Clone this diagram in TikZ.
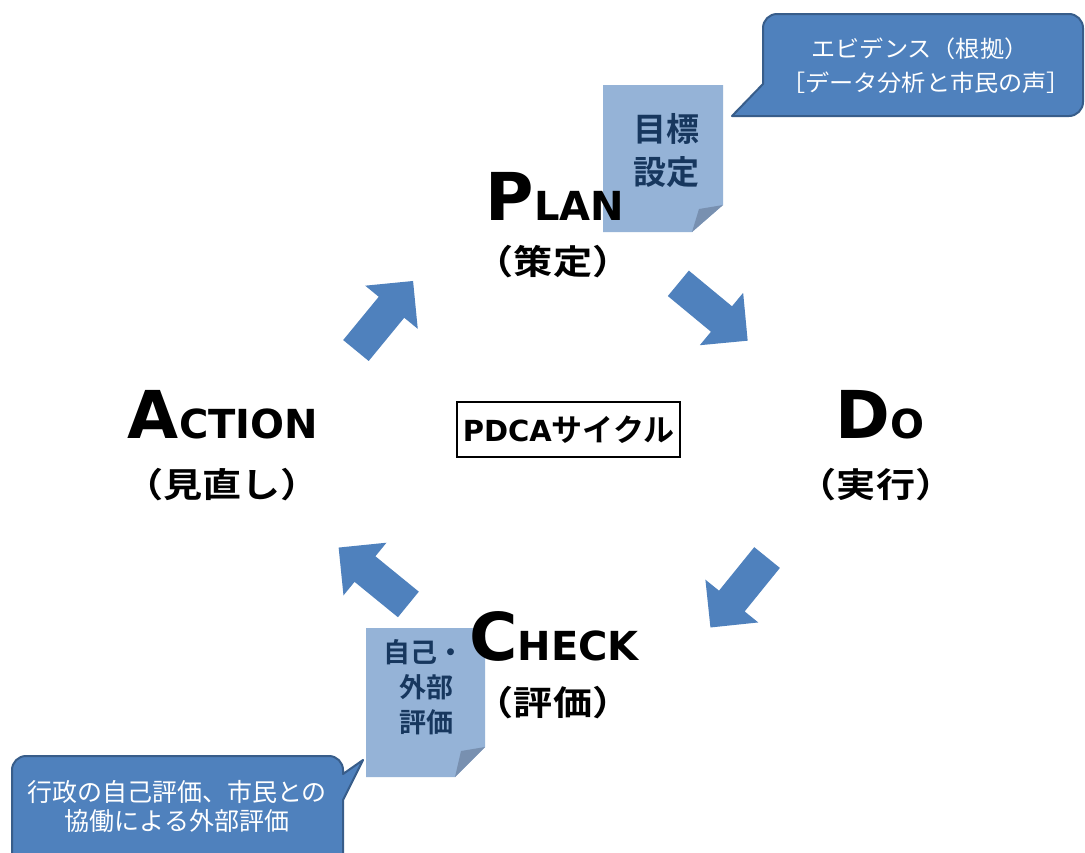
\documentclass[tikz,border=0pt]{standalone}
\usepackage{fontspec}
\newfontfamily\djb{DejaVu Sans Bold}
\newfontfamily\jp{Noto Sans CJK JP}
\newfontfamily\jpw[FakeStretch=1.05]{Noto Sans CJK JP}
\newfontfamily\jpb{Noto Sans CJK JP Bold}
\newfontfamily\jpbw[FakeStretch=1.15]{Noto Sans CJK JP Bold}
\definecolor{arrowblue}{HTML}{4F81BD}
\definecolor{callborder}{HTML}{385D8A}
\definecolor{notefill}{HTML}{95B3D7}
\definecolor{notefold}{HTML}{7890B0}
\definecolor{navy}{HTML}{17375E}
\tikzset{
  blockarrow/.pic={
    \fill[arrowblue] (-45pt,-16.5pt) -- (11pt,-16.5pt) -- (11pt,-34pt) -- (45pt,0pt)
      -- (11pt,34pt) -- (11pt,16.5pt) -- (-45pt,16.5pt) -- cycle;
  },
  bigword/.style={anchor=base, inner sep=0pt, text=black},
  jlabel/.style={inner sep=0pt, text=black, font=\jpbw\fontsize{34}{38}\selectfont},
  notetext/.style={inner sep=0pt, text=navy},
  calltext/.style={inner sep=0pt, text=white},
  callout/.style={fill=arrowblue, draw=callborder, line width=2pt, line join=round},
  pdcabox/.style={draw=black, line width=2pt, inner sep=0pt, minimum width=223pt, minimum height=55pt},
}
\newcommand{\BigL}[1]{{\djb\fontsize{66}{70}\selectfont #1}}
\newcommand{\SmL}[1]{{\djb\fontsize{40}{44}\selectfont #1}}
\begin{document}
\begin{tikzpicture}[x=1pt,y=-1pt]
\path[use as bounding box, clip] (0,0) rectangle (1085,852);
\fill[white] (0,0) rectangle (1085,852);

% block arrows
\pic[rotate=50.6] at (384.5,315.75) {blockarrow};
\pic[rotate=-39.6] at (713,312) {blockarrow};
\pic[rotate=-129] at (738.75,592.5) {blockarrow};
\pic[rotate=140.8] at (373.5,576) {blockarrow};

% notes
\fill[notefill] (603,85) -- (723,85) -- (723,205) -- (692,232) -- (603,232) -- cycle;
\fill[notefold] (723,205) -- (699,209) -- (692,232) -- cycle;
\fill[notefill] (366,628) -- (485,628) -- (485,747) -- (455,777) -- (366,777) -- cycle;
\fill[notefold] (485,747) -- (461,751) -- (455,777) -- cycle;

\node[notetext, font=\jpb\fontsize{33}{36}\selectfont] (mk1) at (666,129) {目標};
\node[notetext, font=\jpb\fontsize{33}{36}\selectfont] (mk2) at (666,172) {設定};
\node[notetext, font=\jpb\fontsize{27}{30}\selectfont] (hy1) at (424,652) {自己・};
\node[notetext, font=\jpb\fontsize{27}{30}\selectfont] (hy2) at (426,687) {外部};
\node[notetext, font=\jpb\fontsize{27}{30}\selectfont] (hy3) at (426,722) {評価};

% callouts
\draw[callout] (732,116) -- (763,84) [rounded corners=14pt] -- (763,14) -- (1083,14) -- (1083,116) -- (778,116) [sharp corners] -- cycle;
\node[calltext, font=\jpw\fontsize{23}{26}\selectfont] (ev1) at (920,49) {エビデンス（根拠）};
\node[calltext, font=\jpw\fontsize{23}{26}\selectfont] (ev2) at (926,83) {［データ分析と市民の声］};

\draw[callout] (363,760) -- (343,800) [rounded corners=14pt] -- (343,890) -- (12,890) -- (12,756) -- (343,756) [sharp corners] -- (343,774) -- cycle;
\node[calltext, font=\jp\fontsize{25}{28}\selectfont] (ex1) at (177,792) {行政の自己評価、市民との};
\node[calltext, font=\jp\fontsize{25}{28}\selectfont] (ex2) at (177,821) {協働による外部評価};

% main labels
\node[bigword] (plan) at (555,220) {\BigL{P}\SmL{LAN}};
\node[jlabel] (planj) at (553,262) {（策定）};
\node[bigword] (do) at (880,438) {\BigL{D}\SmL{O}};
\node[jlabel] (doj) at (876,485) {（実行）};
\node[bigword] (check) at (554,660) {\BigL{C}\SmL{HECK}};
\node[jlabel] (checkj) at (553,703) {（評価）};
\node[bigword] (action) at (223,438) {\BigL{A}\SmL{CTION}};
\node[jlabel] (actionj) at (222,485) {（見直し）};

% centre box
\node[pdcabox] (pdca) at (568.5,429.5) {{\djb\fontsize{29}{32}\selectfont PDCA}{\jpb\fontsize{31}{34}\selectfont サイクル}};
\end{tikzpicture}
\end{document}
